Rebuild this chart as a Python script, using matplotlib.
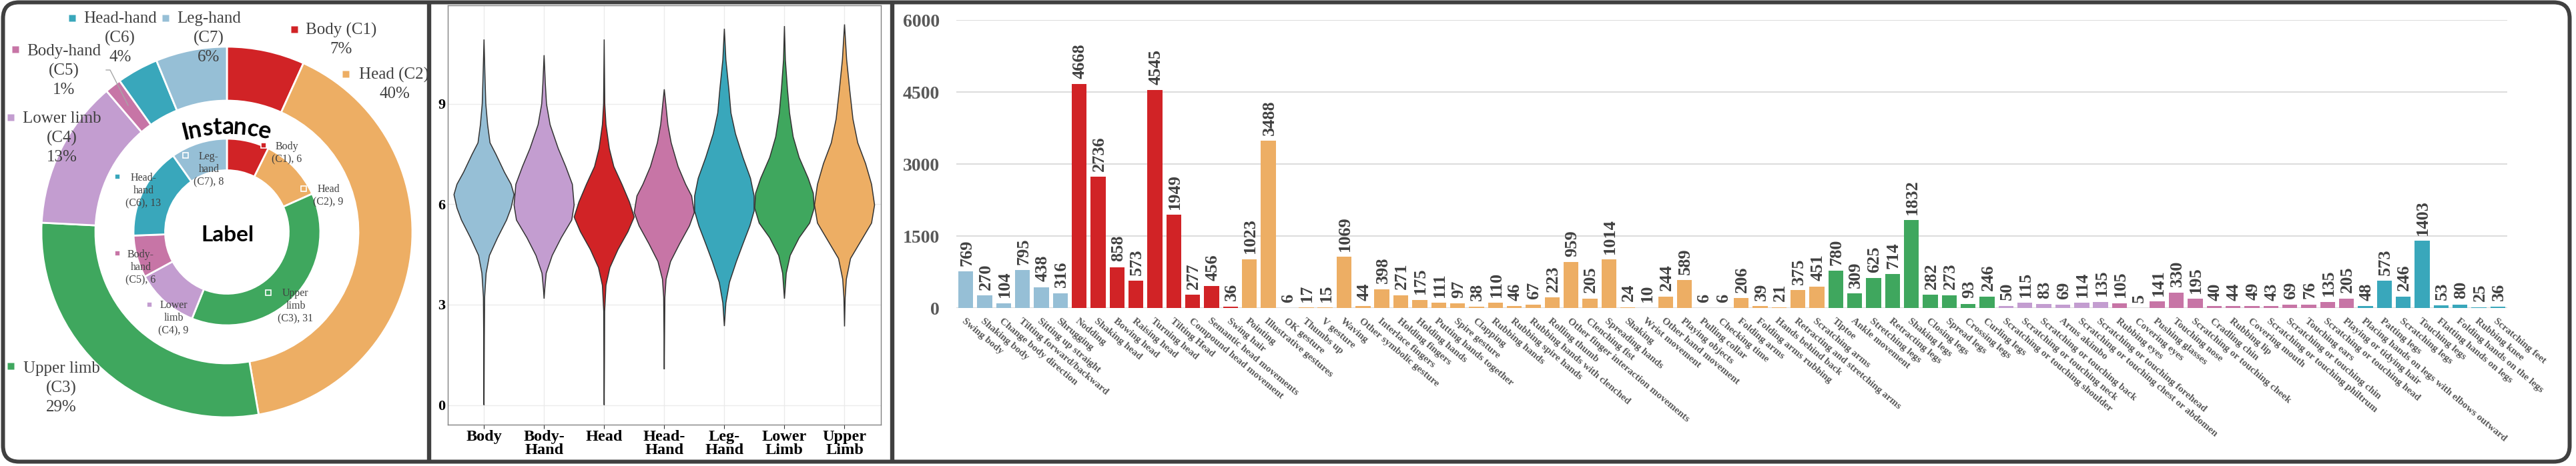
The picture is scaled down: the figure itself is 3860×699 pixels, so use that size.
import numpy as np
import matplotlib.pyplot as plt
from matplotlib.patches import FancyBboxPatch
from matplotlib.textpath import TextPath
from matplotlib.font_manager import FontProperties

plt.rcParams['font.family'] = ['Liberation Serif', 'DejaVu Serif']

W, H = 3860, 699

# ---------------- data ----------------
group_names = ['Body', 'Head', 'Upper limb', 'Lower limb', 'Body-hand', 'Head-hand', 'Leg-hand']
group_codes = ['C1', 'C2', 'C3', 'C4', 'C5', 'C6', 'C7']
outer_pct = ['7%', '40%', '29%', '13%', '1%', '4%', '6%']
donut_colors = ['#D12326', '#EDAE64', '#3FA75E', '#C39DD0', '#C775A6', '#39A7BB', '#96BFD6']
bar_colors = ['#96BFD6', '#D12326', '#EDAE64', '#3FA75E', '#C39DD0', '#C775A6', '#39A7BB']

body_names = ['Swing body', 'Shaking body', 'Change body direction', 'Tilting forward/backward',
              'Sitting up straight', 'Shrugging']
body_vals = [769, 270, 104, 795, 438, 316]

head_names = ['Nodding', 'Shaking head', 'Bowing head', 'Raising head', 'Turning head', 'Tilting Head',
              'Compound head movement', 'Semantic head movements', 'Swing hair']
head_vals = [4668, 2736, 858, 573, 4545, 1949, 277, 456, 36]

upper_names = ['Pointing', 'Illustrative gestures', 'OK gesture', 'Thumbs up', 'V gesture', 'Waving',
               'Other symbolic gesture', 'Interlace fingers', 'Holding fingers', 'Holding hands',
               'Putting hands together', 'Spire gesture', 'Clapping', 'Rubbing hands', 'Rubbing spire hands',
               'Rubbing hands with clenched', 'Rolling thumb', 'Other finger interaction movements',
               'Clenching fist', 'Spreading hands', 'Shaking', 'Wrist movement', 'Other hand movement',
               'Playing objects', 'Pulling collar', 'Checking time', 'Folding arms', 'Folding arms rubbing',
               'Hands behind back', 'Retracting and stretching arms', 'Scratching arms']
upper_vals = [1023, 3488, 6, 17, 15, 1069, 44, 398, 271, 175, 111, 97, 38, 110, 46, 67, 223, 959,
              205, 1014, 24, 10, 244, 589, 6, 6, 206, 39, 21, 375, 451]

lower_names = ['Tiptoe', 'Ankle movement', 'Stretching legs', 'Retracting legs', 'Shaking legs',
               'Closing legs', 'Spread legs', 'Crossing legs', 'Curling legs']
lower_vals = [780, 309, 625, 714, 1832, 282, 273, 93, 246]

bodyhand_names = ['Scratching or touching shoulder', 'Scratching or touching neck',
                  'Scratching or touching back', 'Arms akimbo',
                  'Scratching or touching chest or abdomen', 'Scratching or touching forehead']
bodyhand_vals = [50, 115, 83, 69, 114, 135]

headhand_names = ['Rubbing eyes', 'Covering eyes', 'Pushing glasses', 'Touching nose',
                  'Scratching or touching cheek', 'Cradling chin', 'Rubbing lip', 'Covering mouth',
                  'Scratching or touching philtrum', 'Scratching or touching chin', 'Touching ears',
                  'Scratching or touching head', 'Playing or tidying hair']
headhand_vals = [105, 5, 141, 330, 195, 40, 44, 49, 43, 69, 76, 135, 205]

leghand_names = ['Placing hands on legs with elbows outward', 'Patting legs', 'Scratching legs',
                 'Touching legs', 'Flatting hands on legs', 'Folding hands on the legs',
                 'Rubbing knee', 'Scratching feet']
leghand_vals = [48, 573, 246, 1403, 53, 80, 25, 36]

group_bar_names = [body_names, head_names, upper_names, lower_names,
                   bodyhand_names, headhand_names, leghand_names]
group_bar_vals = [body_vals, head_vals, upper_vals, lower_vals,
                  bodyhand_vals, headhand_vals, leghand_vals]

# violin profiles: (value, relative half width)
violin_names = ['Body', 'Body-\nHand', 'Head', 'Head-\nHand', 'Leg-\nHand', 'Lower\nLimb', 'Upper\nLimb']
violin_colors = ['#96BFD6', '#C39DD0', '#D12326', '#C775A6', '#39A7BB', '#3FA75E', '#EDAE64']
violin_y = [
    [10.93, 9.89, 9.0, 8.38, 7.84, 7.49, 6.96, 6.6, 6.29, 5.89, 5.53, 5.0, 4.47, 3.94, 3.22, 2.0, 0.0],
    [10.46, 9.62, 9.0, 8.38, 7.67, 7.13, 6.6, 5.98, 5.53, 5.0, 4.47, 3.94, 3.45, 3.18],
    [10.93, 9.0, 8.38, 7.67, 7.13, 6.6, 6.07, 5.62, 5.18, 4.65, 4.11, 3.58, 2.8, 1.5, 0.0],
    [9.44, 9.0, 8.38, 7.84, 7.13, 6.6, 6.25, 5.76, 5.36, 4.82, 4.29, 3.76, 3.22, 2.2, 1.07],
    [11.25, 10.33, 9.44, 8.73, 8.11, 7.4, 6.78, 6.25, 5.8, 5.36, 4.82, 4.29, 3.67, 3.05, 2.36],
    [11.33, 10.33, 9.44, 8.73, 8.02, 7.4, 6.78, 6.33, 5.89, 5.44, 5.0, 4.47, 3.94, 3.18],
    [11.38, 10.33, 9.44, 8.55, 7.84, 7.22, 6.6, 5.98, 5.44, 4.91, 4.38, 3.76, 3.2, 2.35],
]
violin_w = [
    [0, .03, .06, .12, .20, .40, .68, .90, 1.0, .90, .75, .45, .18, .07, .02, .01, 0],
    [0, .04, .08, .20, .47, .72, .94, 1.0, .92, .57, .27, .07, .02, 0],
    [0, .02, .06, .17, .32, .59, .84, 1.0, .79, .46, .19, .06, .015, .01, 0],
    [0, .05, .12, .23, .46, .71, .91, 1.0, .84, .51, .21, .06, .02, .01, 0],
    [0, .05, .15, .22, .37, .62, .87, .99, .99, .85, .62, .40, .17, .05, 0],
    [0, .03, .10, .17, .29, .49, .79, .96, .99, .84, .49, .19, .06, 0],
    [0, .07, .17, .28, .44, .70, .90, 1.0, .90, .55, .20, .06, .02, 0],
]

instances = [sum(v) for v in group_bar_vals]
label_counts = [len(v) for v in group_bar_vals]

fig = plt.figure(figsize=(W / 100, H / 100), dpi=100)

# ---------------- donut panel ----------------
ax = fig.add_axes([0, 0, 640 / W, 1])
cx, cy = 340, H - 348
ax.pie(instances, radius=278, center=(cx, cy), startangle=90, counterclock=False,
       colors=donut_colors, wedgeprops=dict(width=81, edgecolor='white', linewidth=2))
ax.pie(label_counts, radius=140, center=(cx, cy), startangle=90, counterclock=False,
       colors=donut_colors, wedgeprops=dict(width=47.5, edgecolor='white', linewidth=2))
ax.set_xlim(0, 640)
ax.set_ylim(0, H)
ax.set_aspect('auto')
ax.axis('off')

# outer labels: (center x, first line y from top, marker x, marker y)
outer_pos = [(511, 45, 441, 44), (591, 112, 518, 111), (92, 553, 16, 549), (93, 178, 16, 176),
             (96, 77, 23, 74), (180, 28, 108, 27), (313, 28, 248, 27)]
for i, (tx, ty, mx, my) in enumerate(outer_pos):
    if i < 2:
        lines = [f'{group_names[i]} ({group_codes[i]})', outer_pct[i]]
    else:
        lines = [group_names[i], f'({group_codes[i]})', outer_pct[i]]
    for k, ln in enumerate(lines):
        ax.text(tx, H - (ty + 29 * k), ln, ha='center', va='center', fontsize=18, color='#404040')
    ax.plot(mx, H - my, 's', ms=7, color=donut_colors[i], mec='none')
ax.plot([159, 165, 192], [H - 105, H - 105, H - 158], color='#A6A6A6', lw=1)

# inner labels
inner_pos = [(430, 220, 395, 218), (492, 284, 455, 283), (443, 440, 402, 439), (260, 458, 224, 457),
             (211, 382, 176, 380), (215, 267, 176, 265), (313, 235, 278, 233)]
for i, (tx, ty, mx, my) in enumerate(inner_pos):
    nm = group_names[i].replace(' ', '\n').replace('-', '-\n')
    lines = nm.split('\n') + [f'({group_codes[i]}), {label_counts[i]}']
    for k, ln in enumerate(lines):
        ax.text(tx, H - (ty + 19 * k), ln, ha='center', va='center', fontsize=11.5, color='#404040')
    ax.plot(mx, H - my, 's', ms=5.5, color=donut_colors[i], mec='white', mew=1.2)

# curved "Instance"
fp = FontProperties(family='Lato', weight='bold')
word = 'Instance'
w1 = TextPath((0, 0), word, size=1, prop=fp).get_extents().xmax
size_px = 133 / w1
edges = [0.0] + [TextPath((0, 0), word[:j + 1], size=size_px, prop=fp).get_extents().xmax
                 for j in range(len(word))]
total = edges[-1]
acx, acy, R = 340, H - 453, 262
for j, ch in enumerate(word):
    s = (edges[j] + edges[j + 1]) / 2
    th = np.pi / 2 - (s - total / 2) / R
    ax.text(acx + R * np.cos(th), acy + R * np.sin(th), ch, fontproperties=fp,
            fontsize=size_px * 0.72, ha='center', va='center',
            rotation=np.degrees(th) - 90, rotation_mode='anchor', color='black')
ax.text(341, H - 352, 'Label', fontfamily='Lato', fontweight='bold', fontsize=24,
        ha='center', va='center', color='black')

# ---------------- violin panel ----------------
axv = fig.add_axes([671.25 / W, (H - 636.6) / H, (1319.5 - 671.25) / W, (636.6 - 8) / H])
for i in range(len(violin_names)):
    ys = np.array(violin_y[i])
    ws = np.array(violin_w[i]) * 0.5
    pos = i + 1
    axv.fill(np.concatenate([pos - ws, (pos + ws)[::-1]]), np.concatenate([ys, ys[::-1]]),
             facecolor=violin_colors[i], edgecolor='#333333', lw=1.1, zorder=3)
axv.set_xlim(0.4, 7.6)
axv.set_ylim(-0.58, 11.95)
axv.set_yticks([0, 3, 6, 9])
axv.set_xticks(range(1, 8))
axv.set_xticklabels(violin_names, fontsize=17.5, fontweight='bold', linespacing=0.95)
for lbl in axv.get_yticklabels():
    lbl.set_fontweight('bold')
axv.tick_params(axis='y', length=0, pad=3, labelsize=16)
axv.tick_params(axis='x', length=4, width=0.8, color='#333333', pad=2)
axv.grid(True, color='#EBEBEB', lw=1)
axv.set_axisbelow(True)
for s in axv.spines.values():
    s.set_color('#808080')
    s.set_linewidth(1)

# ---------------- bar panel ----------------
names, vals, cols = [], [], []
for g in range(len(group_bar_vals)):
    names += group_bar_names[g]
    vals += group_bar_vals[g]
    cols += [bar_colors[g]] * len(group_bar_vals[g])
x = np.arange(len(vals))

axb = fig.add_axes([1433 / W, (H - 462.3) / H, 2324 / W, 432 / H])
axb.bar(x, vals, width=0.79, color=cols, zorder=3)
for xi, v in zip(x, vals):
    axb.annotate(str(v), (xi, v), xytext=(1, 6), textcoords='offset points', rotation=90,
                 ha='center', va='bottom', fontsize=19, fontweight='bold', color='#404040')
axb.set_xlim(-0.5, len(x) - 0.5)
axb.set_ylim(0, 6000)
axb.set_yticks([0, 1500, 3000, 4500, 6000])
axb.yaxis.grid(True, color='#D9D9D9', lw=1.3)
axb.set_axisbelow(True)
for s in axb.spines.values():
    s.set_visible(False)
axb.tick_params(axis='y', length=0, pad=18, labelsize=20, labelcolor='#595959')
for lbl in axb.get_yticklabels():
    lbl.set_fontweight('bold')
axb.tick_params(axis='x', length=0, pad=9)
axb.set_xticks(x)
axb.set_xticklabels(names, rotation=-40, ha='left', va='top', rotation_mode='anchor',
                    fontsize=11, fontweight='bold', color='#595959')

# ---------------- frames ----------------
ov = fig.add_axes([0, 0, 1, 1], zorder=10)
ov.set_xlim(0, W)
ov.set_ylim(H, 0)
ov.axis('off')
ov.add_patch(FancyBboxPatch((4.5, 3.5), 3846, 689, boxstyle='round,pad=0,rounding_size=24',
                            fill=False, ec='#404040', lw=4.3))
for xd in [643, 1337]:
    ov.plot([xd, xd], [3.5, 692.5], color='#404040', lw=4.6, solid_capstyle='butt')

fig.savefig('out.png', dpi=100)
